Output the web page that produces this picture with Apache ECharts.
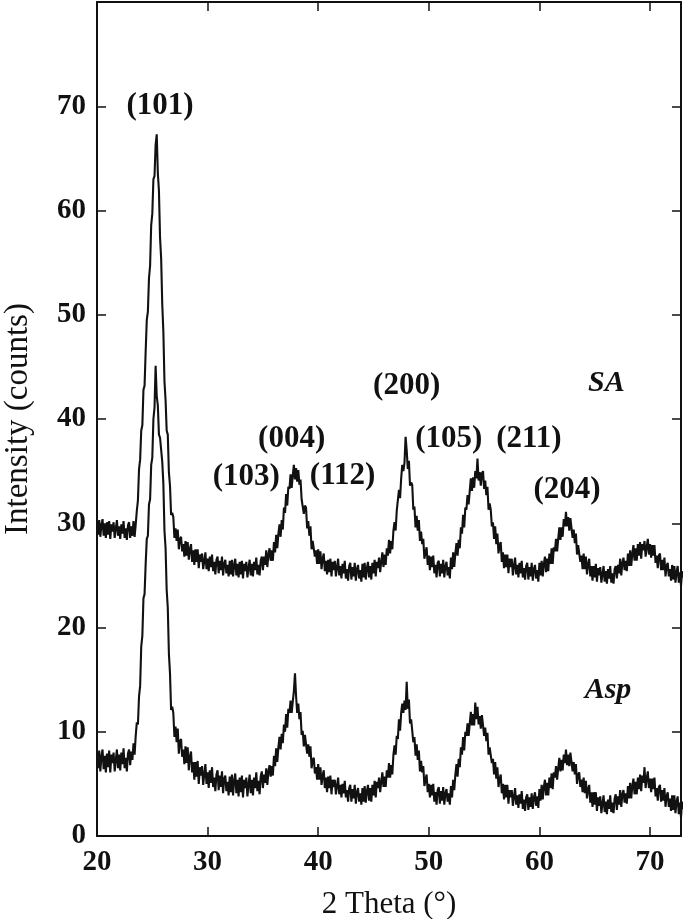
<!DOCTYPE html>
<html>
<head>
<meta charset="utf-8">
<script src="https://cdn.jsdelivr.net/npm/echarts@6/dist/echarts.min.js"></script>
<style>
html,body{margin:0;padding:0;background:#fff;}
#chart{width:685px;height:919px;}
</style>
</head>
<body>
<div id="chart"></div>
<script>
// 2-theta sampling grid (degrees): first angle and step of the scan
const thetaStart = 20.0;
const thetaStep = 0.1;

// Intensity (counts), one row per degree (20.0 ... 20.9, 21.0 ...)
const saCounts = [
 30.2,28.9,30.3,28.7,29.8,30.4,28.8,29.9,28.6,30.1,
 28.9,30.2,28.5,29.9,29.2,30.1,28.6,29.5,30.3,28.8,
 29.7,28.5,29.9,29.0,30.2,28.6,29.5,28.4,29.8,30.1,
 28.6,29.7,28.8,30.2,28.7,29.9,31.2,32.2,35.2,36.1,
 38.9,39.4,42.8,43.2,46.5,49.5,50.3,53.5,54.7,58.6,
 59.7,63.0,63.3,66.3,67.3,63.6,61.9,57.4,55.4,51.0,
 48.4,43.6,41.8,38.9,38.5,34.9,33.6,30.8,31.0,30.6,
 28.6,29.5,28.3,29.4,27.5,28.5,28.7,27.3,28.0,26.8,
 28.3,26.9,28.2,26.5,27.5,28.0,26.3,27.4,26.0,27.5,
 26.3,27.5,25.7,27.0,26.3,27.1,25.6,26.4,27.2,25.6,
 26.6,25.4,26.8,25.8,27.0,25.4,26.3,25.1,26.5,26.8,
 25.2,26.4,25.5,26.8,25.0,26.1,26.5,25.2,26.0,24.9,
 26.4,25.1,26.5,24.9,26.0,26.6,25.0,26.1,24.8,26.3,
 25.1,26.4,24.7,26.1,25.4,26.3,24.8,25.7,26.5,25.0,
 26.1,24.9,26.3,25.5,26.7,25.1,26.0,25.0,26.4,26.8,
 25.5,26.8,26.0,27.4,25.8,27.0,27.6,26.4,27.4,26.4,
 28.2,27.2,28.9,27.6,29.0,29.9,28.7,30.3,29.4,31.5,
 31.0,32.8,31.7,33.5,33.3,34.7,33.4,34.6,35.6,34.2,
 35.3,34.0,35.1,33.7,34.2,32.3,32.4,30.9,31.7,31.5,
 29.5,30.2,28.8,29.7,27.5,28.3,28.4,26.8,27.4,26.1,
 27.5,26.1,27.3,25.6,26.6,27.1,25.4,26.4,25.1,26.5,
 25.3,26.6,24.9,26.3,25.5,26.4,24.9,25.8,26.6,25.0,
 25.9,24.7,26.1,25.2,26.4,24.7,25.6,24.5,25.9,26.2,
 24.6,25.8,24.9,26.2,24.5,25.6,26.0,24.7,25.5,24.4,
 26.1,24.8,26.2,24.6,25.7,26.3,24.8,25.9,24.6,26.2,
 25.2,26.5,24.9,26.3,25.7,26.7,25.3,26.3,27.2,25.8,
 27.0,26.0,27.6,26.9,28.4,27.1,28.3,27.5,29.3,30.1,
 29.3,31.2,31.1,33.2,32.4,34.3,35.6,35.0,35.8,38.3,
 37.0,35.2,36.0,33.6,33.9,33.7,31.3,31.6,29.6,30.7,
 29.3,30.3,28.3,29.2,28.0,28.5,26.6,27.2,27.7,26.0,
 26.9,25.5,26.8,25.8,26.9,25.2,26.0,24.8,26.2,26.4,
 24.9,26.1,25.2,26.5,24.8,25.9,26.3,25.0,25.8,24.7,
 26.7,25.6,27.2,25.8,27.1,28.1,26.9,28.4,27.6,29.6,
 29.0,30.8,29.6,31.5,31.3,32.7,31.8,33.1,34.3,33.1,
 34.4,33.4,35.0,34.3,36.2,34.1,34.9,33.6,34.8,35.0,
 33.3,34.1,32.7,33.5,31.3,31.9,31.3,29.7,30.1,28.5,
 29.7,28.0,29.0,27.1,27.9,28.2,26.3,27.2,25.7,27.0,
 25.8,27.0,25.2,26.6,25.8,26.6,25.0,25.9,26.7,25.1,
 26.0,24.8,26.2,25.2,26.4,24.8,25.7,24.6,25.9,26.2,
 24.6,25.8,24.9,26.2,24.5,25.6,26.0,24.7,25.5,24.4,
 26.2,25.0,26.4,24.9,26.1,26.8,25.3,26.6,25.4,27.1,
 26.1,27.6,26.1,27.7,27.3,28.5,27.3,28.5,29.6,28.4,
 29.6,28.7,30.4,29.7,31.1,29.7,30.6,29.3,30.5,30.5,
 28.6,29.4,28.1,29.0,27.0,27.9,27.9,26.3,26.9,25.6,
 27.1,25.6,26.8,25.1,26.1,26.6,24.9,25.9,24.5,25.9,
 24.8,26.1,24.4,25.7,25.0,25.8,24.3,25.1,25.9,24.4,
 25.4,24.2,25.6,24.7,25.9,24.3,25.2,24.2,25.6,25.9,
 24.7,26.0,25.2,26.6,25.0,26.2,26.7,25.5,26.4,25.4,
 27.1,25.9,27.4,25.9,27.1,27.9,26.4,27.6,26.4,28.0,
 26.9,28.2,26.6,28.0,27.4,28.3,26.8,27.7,28.5,27.0,
 28.0,26.7,27.9,26.9,27.9,26.2,26.9,25.7,26.9,27.1,
 25.5,26.5,25.5,26.7,24.9,25.9,26.2,24.9,25.6,24.5,
 26.0,24.6,25.9,24.3,25.3,25.9,24.3,25.3,24.0,25.4,
 24.8
];

const aspCounts = [
 8.0,6.5,8.2,6.2,7.6,8.3,6.4,7.7,6.1,7.9,
 6.6,8.2,6.1,7.8,7.0,8.0,6.2,7.3,8.3,6.5,
 7.8,6.3,8.0,6.9,8.4,6.5,7.5,6.2,7.9,8.3,
 6.8,8.1,7.3,8.9,7.8,9.6,10.9,10.7,13.4,14.4,
 18.2,19.2,22.8,23.2,26.1,28.5,28.8,31.8,32.3,35.6,
 36.3,40.0,41.1,45.1,42.2,41.3,38.5,38.2,38.2,35.9,
 33.8,29.3,27.6,23.6,21.9,17.5,15.6,12.1,12.4,11.8,
 9.5,10.5,9.0,10.3,7.9,9.1,9.3,7.6,8.3,6.9,
 8.6,7.0,8.5,6.3,7.6,8.1,6.1,7.1,5.4,7.1,
 5.7,7.2,5.0,6.6,5.8,6.7,4.9,5.9,6.9,5.0,
 6.1,4.6,6.3,5.1,6.6,4.7,5.6,4.3,5.9,6.3,
 4.4,5.8,4.7,6.2,4.1,5.5,5.8,4.3,5.2,3.9,
 5.7,4.2,5.9,3.9,5.3,6.0,4.1,5.4,3.8,5.6,
 4.2,5.8,3.7,5.4,4.6,5.6,3.8,4.9,5.9,4.1,
 5.4,3.9,5.6,4.6,6.1,4.3,5.3,4.0,5.7,6.2,
 4.6,5.9,5.1,6.5,4.9,6.2,6.8,5.7,6.7,5.8,
 7.7,6.7,8.4,7.1,8.5,9.5,8.3,9.8,8.9,10.7,
 10.0,11.7,10.4,12.2,11.8,13.0,11.8,12.9,13.9,15.6,
 13.4,11.8,12.7,11.2,11.9,9.7,10.1,8.6,9.7,9.7,
 7.9,8.8,7.6,8.6,6.5,7.3,7.5,6.0,6.6,5.4,
 6.9,5.4,6.6,4.9,5.8,6.3,4.6,5.6,4.2,5.7,
 4.6,5.8,4.0,5.4,4.7,5.4,4.0,4.8,5.6,4.0,
 4.9,3.7,5.0,4.1,5.3,3.7,4.4,3.3,4.6,4.9,
 3.3,4.5,3.6,4.9,3.1,4.2,4.6,3.3,4.1,3.0,
 4.6,3.3,4.8,3.2,4.3,4.9,3.4,4.6,3.3,4.9,
 3.9,5.3,3.7,5.2,4.6,5.6,4.2,5.2,6.1,4.7,
 5.7,4.7,6.3,5.6,7.0,5.6,6.8,5.9,7.8,8.7,
 7.8,9.6,9.3,11.2,10.1,11.8,12.7,11.8,13.0,12.1,
 14.8,12.2,13.1,10.8,11.2,11.3,9.0,9.5,7.7,8.8,
 7.3,8.2,6.2,7.2,6.1,6.7,4.8,5.4,5.9,4.2,
 5.0,3.7,4.9,3.9,5.0,3.3,4.2,3.0,4.4,4.7,
 3.1,4.3,3.4,4.7,3.0,4.1,4.5,3.3,4.1,3.0,
 4.8,3.7,5.4,4.4,5.9,6.9,5.7,7.4,6.6,8.5,
 7.8,9.5,8.2,10.0,9.6,10.8,9.6,10.8,11.9,10.6,
 11.7,10.6,12.8,11.2,12.4,10.7,11.5,10.3,11.6,11.6,
 9.6,10.4,9.1,9.9,7.8,8.5,8.6,7.0,7.4,5.9,
 7.1,5.5,6.6,4.7,5.5,5.9,4.1,5.0,3.5,4.9,
 3.7,4.9,3.1,4.4,3.7,4.4,2.9,3.8,4.6,3.0,
 3.9,2.7,4.0,3.1,4.3,2.6,3.5,2.4,3.7,4.0,
 2.5,3.7,2.8,4.1,2.6,3.7,4.2,2.9,3.8,2.7,
 4.5,3.4,4.9,3.5,4.7,5.4,3.9,5.1,3.9,5.6,
 4.6,6.0,4.5,6.1,5.6,6.7,5.4,6.5,7.5,6.2,
 7.3,6.3,7.8,7.0,8.3,6.8,7.8,6.7,8.0,8.0,
 6.2,7.1,5.9,6.9,5.0,5.9,6.1,4.7,5.4,4.2,
 5.6,4.1,5.3,3.6,4.5,4.9,3.2,4.2,2.8,4.2,
 3.0,4.2,2.4,3.7,2.9,3.8,2.2,3.1,3.9,2.3,
 3.3,2.1,3.5,2.6,3.9,2.3,3.2,2.2,3.6,4.0,
 2.5,3.8,3.0,4.4,2.8,4.0,4.4,3.2,4.1,3.1,
 4.8,3.6,5.1,3.6,4.8,5.5,4.0,5.2,4.0,5.6,
 4.5,5.9,4.3,5.8,5.1,6.6,4.6,5.5,6.2,4.6,
 5.5,4.2,5.5,4.5,5.6,3.8,4.6,3.4,4.7,4.9,
 3.3,4.4,3.4,4.6,2.8,3.8,4.2,2.8,3.6,2.4,
 3.9,2.5,3.9,2.2,3.3,3.8,2.1,3.2,1.8,3.3,
 2.6
];

// Reflection labels and sample names, placed at (2θ, intensity)
const peakLabels = ['(101)', '(004)', '(103)', '(112)', '(200)', '(105)', '(211)', '(204)'];
const peakLabelTheta = [25.7, 37.6, 33.5, 42.2, 48.0, 51.8, 59.05, 62.5];
const peakLabelY = [70.0, 38.1, 34.4, 34.5, 43.2, 38.1, 38.1, 33.2];
const sampleNames = ['SA', 'Asp'];
const sampleNameTheta = [66.05, 66.2];
const sampleNameY = [43.4, 14.0];

// Axis setup
const xMin = 20, xMax = 72.8, xInterval = 10;
const yMin = 0, yMax = 80, yInterval = 10;

function toPairs(arr) {
  return arr.map(function (v, i) {
    return [+(thetaStart + i * thetaStep).toFixed(2), v];
  });
}

const serif = "Liberation Serif";
const ink = '#111111';

const chart = echarts.init(document.getElementById('chart'), null, {renderer: 'canvas'});

const axisCommon = {
  axisLine: {show: true, onZero: false, lineStyle: {color: ink, width: 2}},
  axisTick: {show: true, inside: true, length: 9, lineStyle: {color: ink, width: 1.5}},
  splitLine: {show: false}
};

chart.setOption({
  animation: false,
  backgroundColor: '#ffffff',
  grid: {left: 97, right: 4, top: 2, bottom: 83, containLabel: false, outerBoundsMode: 'none'},
  xAxis: [
    Object.assign({
      type: 'value', position: 'bottom', min: xMin, max: xMax, interval: xInterval,
      name: '2 Theta (°)', nameLocation: 'middle', nameGap: 53,
      nameTextStyle: {fontFamily: serif, fontSize: 31, color: ink},
      axisLabel: {
        fontFamily: serif, fontSize: 29, fontWeight: 'bold', color: ink, margin: 12,
        showMaxLabel: false,
        formatter: function (v) { return v % 10 === 0 ? String(v) : ''; }
      }
    }, axisCommon),
    Object.assign({
      type: 'value', position: 'top', min: xMin, max: xMax, interval: xInterval,
      axisLabel: {show: false}
    }, axisCommon)
  ],
  yAxis: [
    Object.assign({
      type: 'value', position: 'left', min: yMin, max: yMax, interval: yInterval,
      name: 'Intensity (counts)', nameLocation: 'middle', nameGap: 62, nameRotate: 90,
      nameTextStyle: {fontFamily: serif, fontSize: 33, color: ink},
      axisLabel: {
        fontFamily: serif, fontSize: 29, fontWeight: 'bold', color: ink, margin: 11,
        showMaxLabel: false
      }
    }, axisCommon),
    Object.assign({
      type: 'value', position: 'right', min: yMin, max: yMax, interval: yInterval,
      axisLabel: {show: false}
    }, axisCommon)
  ],
  series: [
    {
      name: 'SA', type: 'line', xAxisIndex: 0, yAxisIndex: 0,
      data: toPairs(saCounts), showSymbol: false, symbol: 'none',
      lineStyle: {color: ink, width: 2.1}, clip: true, silent: true
    },
    {
      name: 'Asp', type: 'line', xAxisIndex: 0, yAxisIndex: 0,
      data: toPairs(aspCounts), showSymbol: false, symbol: 'none',
      lineStyle: {color: ink, width: 2.1}, clip: true, silent: true
    }
  ]
});

// Text annotations, positioned through the chart's own coordinate conversion
function annotation(text, theta, y, italic) {
  const p = chart.convertToPixel({xAxisIndex: 0, yAxisIndex: 0}, [theta, y]);
  return {
    type: 'text', x: p[0], y: p[1], silent: true, z: 10,
    style: {
      text: text, fill: ink, align: 'center', verticalAlign: 'middle',
      font: (italic ? 'italic bold 30px' : 'bold 31px') + ' "Liberation Serif"'
    }
  };
}
const graphics = peakLabels.map(function (t, i) {
  return annotation(t, peakLabelTheta[i], peakLabelY[i], false);
}).concat(sampleNames.map(function (t, i) {
  return annotation(t, sampleNameTheta[i], sampleNameY[i], true);
}));
chart.setOption({graphic: graphics});
</script>
</body>
</html>
